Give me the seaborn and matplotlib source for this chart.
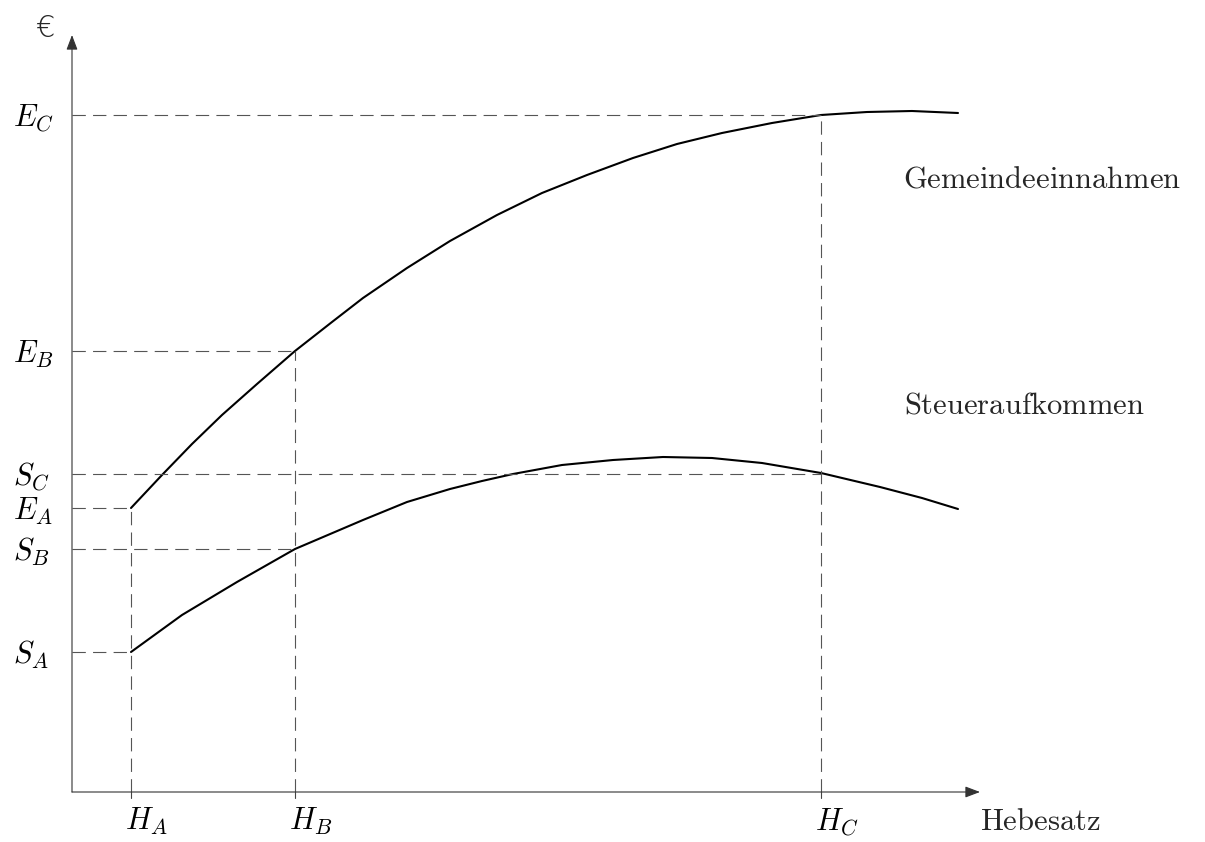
import matplotlib
matplotlib.use("Agg")
import matplotlib.pyplot as plt
import seaborn as sns
import pandas as pd

# values (1 unit = 100 px, origin at the axes corner)
hebesatz = [0.59, 2.23, 7.49]          # H_A, H_B, H_C
einnahmen = [2.84, 4.41, 6.77]         # E_A, E_B, E_C
steuer = [1.40, 2.43, 3.18]            # S_A, S_B, S_C
h_labels = ["$H_A$", "$H_B$", "$H_C$"]
e_labels = ["$E_A$", "$E_B$", "$E_C$"]
s_labels = ["$S_A$", "$S_B$", "$S_C$"]

# Gemeindeeinnahmen curve
gem_x = [0.59, 0.90, 1.20, 1.50, 1.85, 2.23, 2.60, 2.91, 3.35, 3.78, 4.25, 4.70, 5.15,
         5.61, 6.05, 6.50, 7.00, 7.49, 7.95, 8.40, 8.86]
gem_y = [2.84, 3.17, 3.48, 3.77, 4.08, 4.41, 4.70, 4.94, 5.24, 5.51, 5.77, 5.99, 6.17,
         6.34, 6.48, 6.59, 6.69, 6.77, 6.80, 6.81, 6.79]

# Steueraufkommen curve
st_x = [0.59, 1.10, 1.65, 2.23, 2.91, 3.35, 3.78, 4.10, 4.41, 4.90, 5.41, 5.91, 6.40, 6.90,
        7.49, 8.08, 8.50, 8.86]
st_y = [1.40, 1.77, 2.10, 2.43, 2.72, 2.90, 3.03, 3.11, 3.18, 3.27, 3.32, 3.35, 3.34, 3.29,
        3.19, 3.05, 2.94, 2.83]

x_tip = 9.08
y_tip = 7.57

sns.set_theme(style="white")
plt.rcParams["mathtext.fontset"] = "cm"

fig = plt.figure(figsize=(12.05, 8.42), dpi=100)
ax = fig.add_axes([0, 0, 1, 1])
ax.set_xlim(-0.72, 11.33)
ax.set_ylim(-0.50, 7.92)
ax.axis("off")

df = pd.concat([
    pd.DataFrame({"x": gem_x, "y": gem_y, "kurve": "Gemeindeeinnahmen"}),
    pd.DataFrame({"x": st_x, "y": st_y, "kurve": "Steueraufkommen"}),
])
sns.lineplot(data=df, x="x", y="y", units="kurve", estimator=None, sort=False,
             color="black", lw=1.5, ax=ax, legend=False)

dash = (0, (12, 6.5))
grey = "#555555"
for h, e, s in zip(hebesatz, einnahmen, steuer):
    ax.plot([0, h], [e, e], color=grey, lw=0.8, ls=dash)
    ax.plot([0, h], [s, s], color=grey, lw=0.8, ls=dash)
    ax.plot([h, h], [0, e], color=grey, lw=0.8, ls=dash)
    ax.plot([h, h], [0, -0.06], color="#444444", lw=0.8)

# axes with arrow heads
arrow = dict(arrowstyle="-|>,head_length=0.45,head_width=0.17", color="#333333",
             lw=0.8, shrinkA=0, shrinkB=0, mutation_scale=20)
ax.annotate("", xy=(x_tip, 0), xytext=(0, 0), arrowprops=arrow)
ax.annotate("", xy=(0, y_tip), xytext=(0, 0), arrowprops=arrow)

fs = 22
for val, lab in zip(einnahmen + steuer, e_labels + s_labels):
    ax.text(-0.59, val - 0.115, lab, fontsize=fs, ha="left", va="baseline", color="black")
for val, lab in zip(hebesatz, h_labels):
    ax.text(val - 0.06, -0.38, lab, fontsize=fs, ha="left", va="baseline", color="black")

ax.text(9.08, -0.38, r"$\mathrm{Hebesatz}$", fontsize=fs, ha="left", va="baseline")
ax.text(8.31, 6.05, r"$\mathrm{Gemeindeeinnahmen}$", fontsize=fs, ha="left", va="baseline")
ax.text(8.32, 3.78, r"$\mathrm{Steueraufkommen}$", fontsize=fs, ha="left", va="baseline")
ax.text(-0.27, 7.55, "€", fontsize=22, ha="center", va="baseline", family="DejaVu Sans",
        weight="light")

fig.savefig("out.png", dpi=100)
